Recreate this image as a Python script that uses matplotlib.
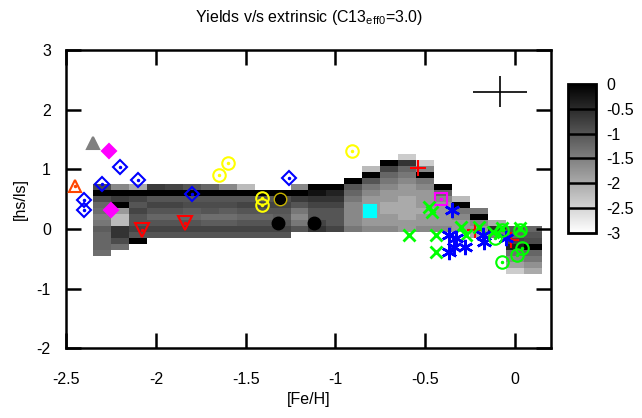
import numpy as np
import matplotlib
matplotlib.use('Agg')
import matplotlib.pyplot as plt

plt.rcParams['font.family'] = ['Liberation Sans', 'DejaVu Sans']
plt.rcParams['mathtext.fontset'] = 'custom'
plt.rcParams['mathtext.rm'] = 'Liberation Sans'
plt.rcParams['mathtext.it'] = 'Liberation Sans'

# heat map: one column per [Fe/H] bin (0.1 dex), top row centre, values from top down
col_feh = [-2.3, -2.2, -2.1, -2.0, -1.9, -1.8, -1.7, -1.6, -1.5, -1.4, -1.3, -1.2,
           -1.1, -1.0, -0.9, -0.8, -0.7, -0.6, -0.5, -0.4, -0.3, -0.2, -0.1, 0.0, 0.1]
col_top = [0.7, 0.7, 0.7, 0.7, 0.7, 0.7, 0.7, 0.7, 0.7, 0.6, 0.6, 0.7,
           0.7, 0.7, 0.8, 1.0, 1.1, 1.2, 1.1, 0.7, 0.5, 0.3, 0.1, 0.0, 0.0]
col_vals = [
    [-0.9, 0, -0.9, -1.2, -1.3, -1.5, -1.4, -1.1, -1.2, -1.2, -1.2, -1.3],
    [-1.6, 0, -0.7, 0, -1.8, -2.2, -2.2, -0.6, -0.6, -0.9, -1.3],
    [-2.0, 0, -0.8, -1.0, -0.8, -1.0, -1.0, -0.8, -1.0, 0],
    [-0.7, 0, -1.0, -0.8, -1.0, -1.2, -1.0, -0.8, -1.0],
    [-0.8, 0, -1.0, -0.8, -1.0, -1.2, -1.0, -0.8, -1.0],
    [-1.0, 0, -1.0, -0.9, -1.1, -1.2, -1.0, -0.8, -1.0],
    [-1.2, 0, -1.0, -0.9, -1.0, -1.3, -1.1, -0.8, -1.0],
    [-1.6, 0, -1.0, -0.9, -1.1, -1.3, -1.1, -0.8, -1.0],
    [-2.2, 0, -1.0, -0.8, -1.0, -1.2, -1.0, -0.8, -1.0],
    [0, -1.0, -0.8, -1.0, -1.2, -1.0, -0.8, -1.0],
    [0, -0.9, -0.8, -1.0, -1.1, -1.0, -0.8, -1.0],
    [-1.6, 0, -0.7, -1.0, -1.4, -1.6, -1.4, -1.0],
    [0, -0.2, -0.6, -0.8, -1.0, -1.0, -0.8, -0.6],
    [0, -0.4, -0.6, -0.8, -1.0, -1.0, -1.0, -0.8],
    [0, -1.0, -1.2, -1.4, -1.6, -1.6, -1.6, -1.6, -1.4],
    [-2.2, 0, -1.0, -1.4, -1.6, -1.8, -1.8, -1.8, -1.8, -1.8, -1.6],
    [0, -0.8, -1.2, -1.4, -1.6, -1.8, -1.8, -2.0, -2.0, -1.8, -1.8, -1.6],
    [-2.4, -0.6, -1.2, -1.4, -1.6, -1.8, -1.8, -2.0, -2.0, -2.0, -2.0, -1.8, -1.8],
    [-2.4, -1.6, 0, -1.4, -1.6, -1.8, -1.8, -1.8, -2.0, -1.8, -1.8, -1.6],
    [0, -1.2, -1.6, -1.8, -1.8, -1.8, -1.8, -1.6],
    [-2.2, 0, -1.4, -1.6, -1.8, -1.8],
    [-1.4, 0, -1.6, -1.8, -2.0],
    [-2.0, -0.5, -1.5],
    [-1.0, -1.2, -0.8, -0.4, -1.3, -1.6, -1.9, -2.4],
    [-1.2, -1.0, -0.9, 0, -1.2, -1.4, -1.7, -2.0],
]

# observed stars
tri_or_x, tri_or_y = [-2.45], [0.72]
tri_gr_x, tri_gr_y = [-2.35], [1.44]
dia_mg_x, dia_mg_y = [-2.26, -2.25], [1.31, 0.32]
dia_bl_x = [-2.20, -2.30, -2.10, -2.40, -2.40, -1.80, -1.26]
dia_bl_y = [1.04, 0.75, 0.82, 0.49, 0.32, 0.59, 0.86]
vtri_x, vtri_y = [-2.08, -1.84], [-0.02, 0.10]
circ_ye_x = [-1.65, -1.60, -1.41, -1.41, -0.91]
circ_ye_y = [0.91, 1.11, 0.52, 0.40, 1.31]
dot_bk_x, dot_bk_y = [-1.31, -1.32, -1.12], [0.50, 0.10, 0.10]
sq_cy_x, sq_cy_y = [-0.81], [0.30]
plus_x, plus_y = [-0.54, -0.22, -0.02], [1.02, -0.02, -0.18]
sq_mg_x, sq_mg_y = [-0.41], [0.50]
x_gr_x = [-0.48, -0.46, -0.59, -0.44, -0.44, -0.30, -0.27, -0.20, -0.12, -0.07, 0.03]
x_gr_y = [0.37, 0.29, -0.10, -0.10, -0.39, 0.03, -0.10, 0.03, -0.05, 0.02, 0.02]
ast_x = [-0.35, -0.37, -0.33, -0.34, -0.37, -0.28, -0.18, -0.17, -0.05]
ast_y = [0.32, -0.10, -0.15, -0.30, -0.39, -0.30, -0.10, -0.22, -0.15]
circ_gr_x = [-0.11, -0.07, 0.01, 0.04, -0.07, 0.03]
circ_gr_y = [-0.15, -0.55, -0.44, -0.32, -0.01, -0.01]

err_x, err_y, err_dx, err_dy = -0.084, 2.3, 0.15, 0.26

cb_ticks = [0, -0.5, -1, -1.5, -2, -2.5, -3]

# build the grid
x_edges = np.arange(len(col_feh) + 1) * 0.1 - 2.35
y_edges = np.arange(21) * 0.1 - 0.75
Z = np.full((20, len(col_feh)), np.nan)
for j, (top, vals) in enumerate(zip(col_top, col_vals)):
    i0 = int(round((top + 0.7) / 0.1))
    for k, v in enumerate(vals):
        Z[i0 - k, j] = v

fig = plt.figure(figsize=(6.42, 4.18), dpi=100)
ax = fig.add_axes([0.103, 0.167, 0.755, 0.713])
mesh = ax.pcolormesh(x_edges, y_edges, np.ma.masked_invalid(Z), cmap='gray_r',
                     vmin=-3, vmax=0, zorder=1)

def pts(x, y, m, c, ms, filled=False, dot=True, mew=1.5):
    ax.plot(x, y, ls='none', marker=m, ms=ms, mew=mew,
            mec=c, mfc=c if filled else 'none', zorder=3)
    if dot and not filled:
        ax.plot(x, y, ls='none', marker='o', ms=1.5, color=c, zorder=3)

pts(tri_or_x, tri_or_y, '^', 'orangered', 8.5)
pts(tri_gr_x, tri_gr_y, '^', 'gray', 8.5, filled=True)
pts(dia_mg_x, dia_mg_y, 'D', 'magenta', 7.5, filled=True)
pts(dia_bl_x, dia_bl_y, 'D', 'blue', 7.5)
pts(vtri_x, vtri_y, 'v', 'red', 9.5)
pts(circ_ye_x, circ_ye_y, 'o', 'yellow', 9)
ax.plot(dot_bk_x[:1], dot_bk_y[:1], ls='none', marker='o', ms=9, mfc='k',
        mec='#c8b400', mew=1, zorder=3)
ax.plot(dot_bk_x[1:], dot_bk_y[1:], ls='none', marker='o', ms=9, color='k', zorder=3)
pts(sq_cy_x, sq_cy_y, 's', 'cyan', 8, filled=True)
pts(plus_x, plus_y, '+', 'red', 11, dot=False)
pts(sq_mg_x, sq_mg_y, 's', 'magenta', 9)
pts(x_gr_x, x_gr_y, 'x', 'lime', 9, dot=False, mew=2)
pts(ast_x, ast_y, (6, 2, 0), 'blue', 11, dot=False, mew=1.8)
pts(circ_gr_x, circ_gr_y, 'o', 'lime', 9)

ax.errorbar([err_x], [err_y], xerr=[err_dx], yerr=[err_dy], fmt='none',
            ecolor='k', elinewidth=1.2, capsize=0, zorder=3)

ax.set_xlim(-2.5, 0.2)
ax.set_ylim(-2, 3)
ax.set_xticks([-2.5, -2, -1.5, -1, -0.5, 0])
ax.set_xticklabels(['-2.5', '-2', '-1.5', '-1', '-0.5', '0'])
ax.set_yticks([-2, -1, 0, 1, 2, 3])
ax.set_yticklabels(['-2', '-1', '0', '1', '2', '3'])
ax.tick_params(axis='both', direction='in', length=11, width=1.8,
               top=True, right=True, labelsize=11.5)
ax.tick_params(axis='x', pad=17)
ax.tick_params(axis='y', pad=11)
for s in ax.spines.values():
    s.set_linewidth(1.8)
ax.set_xlabel('[Fe/H]', fontsize=11.5, labelpad=4)
ax.set_ylabel('[hs/ls]', fontsize=11.5, labelpad=6)
fig.text(0.481, 0.959, r'Yields v/s extrinsic (C13$_{\rm eff0}$=3.0)',
         ha='center', va='center', fontsize=11.5)

cax = fig.add_axes([0.885, 0.443, 0.0436, 0.356])
cb = fig.colorbar(mesh, cax=cax)
cb.set_ticks(cb_ticks)
cb.set_ticklabels(['0', '-0.5', '-1', '-1.5', '-2', '-2.5', '-3'])
cb.ax.tick_params(length=0, labelsize=11.5, pad=7)
cb.outline.set_linewidth(2)
for t in cb_ticks[1:-1]:
    cax.axhline(t, color='k', lw=1.8)

fig.savefig('out.png', dpi=100)
